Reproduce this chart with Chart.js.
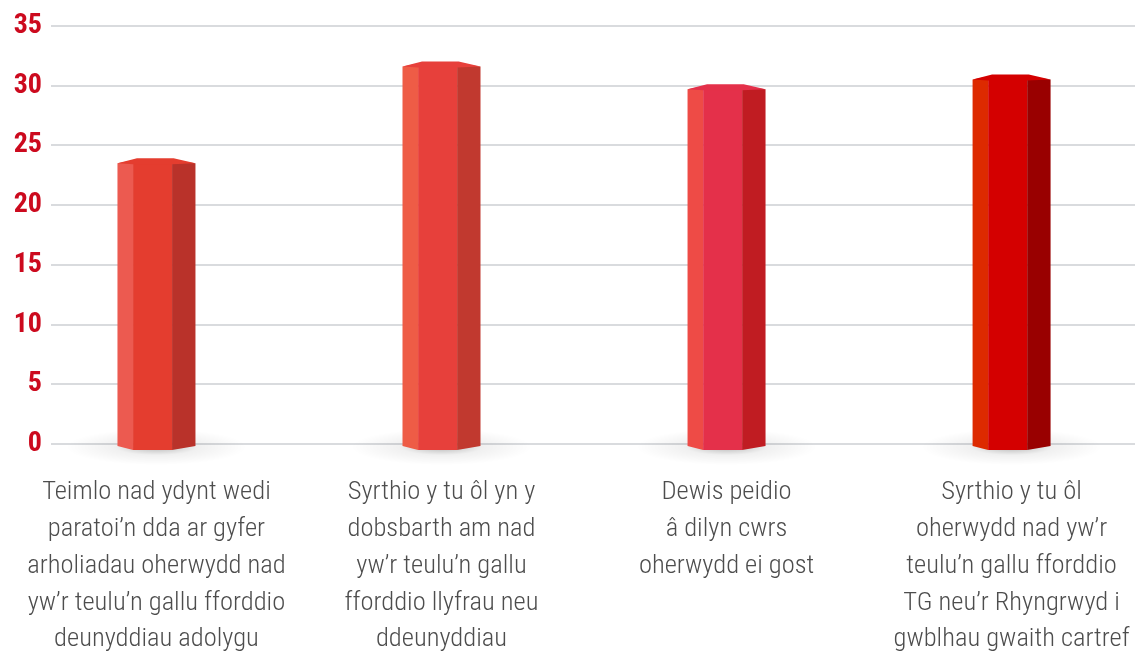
<!DOCTYPE html>
<html>
<head>
<meta charset="utf-8">
<script src="https://cdn.jsdelivr.net/npm/chart.js@4"></script>
<style>
  html, body { margin: 0; padding: 0; background: #fff; overflow: hidden; }
  #wrap { width: 1135px; height: 658px; position: relative; }
</style>
</head>
<body>
<div id="wrap"><canvas id="chart"></canvas></div>
<script>
const categories = [
  ['Teimlo nad ydynt wedi', 'paratoi\u2019n dda ar gyfer', 'arholiadau oherwydd nad', 'yw\u2019r teulu\u2019n gallu fforddio', 'deunyddiau adolygu'],
  ['Syrthio y tu \u00f4l yn y', 'dobsbarth am nad', 'yw\u2019r teulu\u2019n gallu', 'fforddio llyfrau neu', 'ddeunyddiau'],
  ['Dewis peidio', '\u00e2 dilyn cwrs', 'oherwydd ei gost'],
  ['Syrthio y tu \u00f4l', 'oherwydd nad yw\u2019r', 'teulu\u2019n gallu fforddio', 'TG neu\u2019r Rhyngrwyd i', 'gwblhau gwaith cartref'],
];
const values = [23.5, 31.6, 29.7, 30.5];
const yTicks = [0, 5, 10, 15, 20, 25, 30, 35];

// facet colours per bar: left, front, right
const faceColours = [
  ['#ec5a50', '#e43d2f', '#b9322a'],
  ['#ee5c46', '#e7403b', '#c1392f'],
  ['#ee4b46', '#e4304a', '#c01c22'],
  ['#dd2a00', '#d40000', '#990000'],
];

const narrow = "'Roboto Condensed', 'Roboto', sans-serif";

// paints each bar as a hexagonal prism, using the bar element's own geometry
const prismBars = {
  id: 'prismBars',
  beforeDatasetsDraw(chart) {
    const ctx = chart.ctx;
    chart.getDatasetMeta(0).data.forEach((bar) => {
      const cx = bar.x, base = bar.base;
      ctx.save();
      ctx.translate(cx, base + 4);
      ctx.scale(1, 0.2);
      const g = ctx.createRadialGradient(0, 0, 0, 0, 0, 90);
      g.addColorStop(0, 'rgba(0,0,0,0.28)');
      g.addColorStop(0.45, 'rgba(0,0,0,0.06)');
      g.addColorStop(1, 'rgba(0,0,0,0)');
      ctx.fillStyle = g;
      ctx.beginPath();
      ctx.arc(0, 0, 90, 0, Math.PI * 2);
      ctx.fill();
      ctx.restore();
    });
  },
  afterDatasetsDraw(chart) {
    const ctx = chart.ctx;
    chart.getDatasetMeta(0).data.forEach((bar, i) => {
      const [cl, cm, cr] = faceColours[i];
      const w = bar.width;
      const left = bar.x - w / 2, right = bar.x + w / 2;
      const top = bar.y, base = bar.base;
      const x1 = left + w * 0.2, x2 = left + w * 0.7;
      ctx.save();
      // left facet
      ctx.fillStyle = cl;
      ctx.beginPath();
      ctx.moveTo(left, top);
      ctx.lineTo(x1, top - 3);
      ctx.lineTo(x1, base + 7);
      ctx.lineTo(left, base + 3);
      ctx.closePath();
      ctx.fill();
      // front facet
      ctx.fillStyle = cm;
      ctx.fillRect(x1, top - 3, x2 - x1, base - top + 10);
      // right facet
      ctx.fillStyle = cr;
      ctx.beginPath();
      ctx.moveTo(x2, top - 3);
      ctx.lineTo(right, top);
      ctx.lineTo(right, base + 3);
      ctx.lineTo(x2, base + 7);
      ctx.closePath();
      ctx.fill();
      // top cap
      ctx.fillStyle = cm;
      ctx.beginPath();
      ctx.moveTo(left, top);
      ctx.lineTo(left + w * 0.25, top - 5);
      ctx.lineTo(left + w * 0.72, top - 5);
      ctx.lineTo(right, top);
      ctx.lineTo(x2, top + 1);
      ctx.lineTo(x1, top + 1);
      ctx.closePath();
      ctx.fill();
      ctx.restore();
    });
  },
};

new Chart(document.getElementById('chart'), {
  type: 'bar',
  data: {
    datasets: [{
      data: values.map((v, i) => ({ x: i, y: v })),
      backgroundColor: 'rgba(0,0,0,0)',
      barThickness: 78,
    }],
  },
  options: {
    responsive: true,
    maintainAspectRatio: false,
    animation: false,
    layout: { padding: { top: 12, right: 0, bottom: 0, left: 0 } },
    plugins: {
      legend: { display: false },
      tooltip: { enabled: false },
    },
    scales: {
      x: {
        type: 'linear',
        offset: false,
        min: -0.37,
        max: 3.433,
        grid: { display: false },
        border: { display: false },
        afterBuildTicks: (scale) => {
          scale.ticks = categories.map((_, i) => ({ value: i }));
        },
        afterFit: (scale) => {
          scale.height = 214;
          scale.paddingLeft = 0;
          scale.paddingRight = 0;
        },
        ticks: {
          autoSkip: false,
          maxRotation: 0,
          padding: 22,
          color: '#4d4d4d',
          font: { family: narrow, size: 26.5, weight: 300, lineHeight: 1.39 },
          callback: (v) => categories[v],
        },
      },
      y: {
        min: 0,
        max: 35,
        afterBuildTicks: (scale) => {
          scale.ticks = yTicks.map((v) => ({ value: v }));
        },
        afterFit: (scale) => { scale.width = 51; },
        grid: { color: '#d9dbde', lineWidth: 2, drawTicks: false },
        border: { display: false },
        ticks: {
          padding: 9,
          color: '#cc0a1e',
          font: { family: narrow, size: 28, weight: 'bold' },
        },
      },
    },
  },
  plugins: [prismBars],
});
</script>
</body>
</html>
